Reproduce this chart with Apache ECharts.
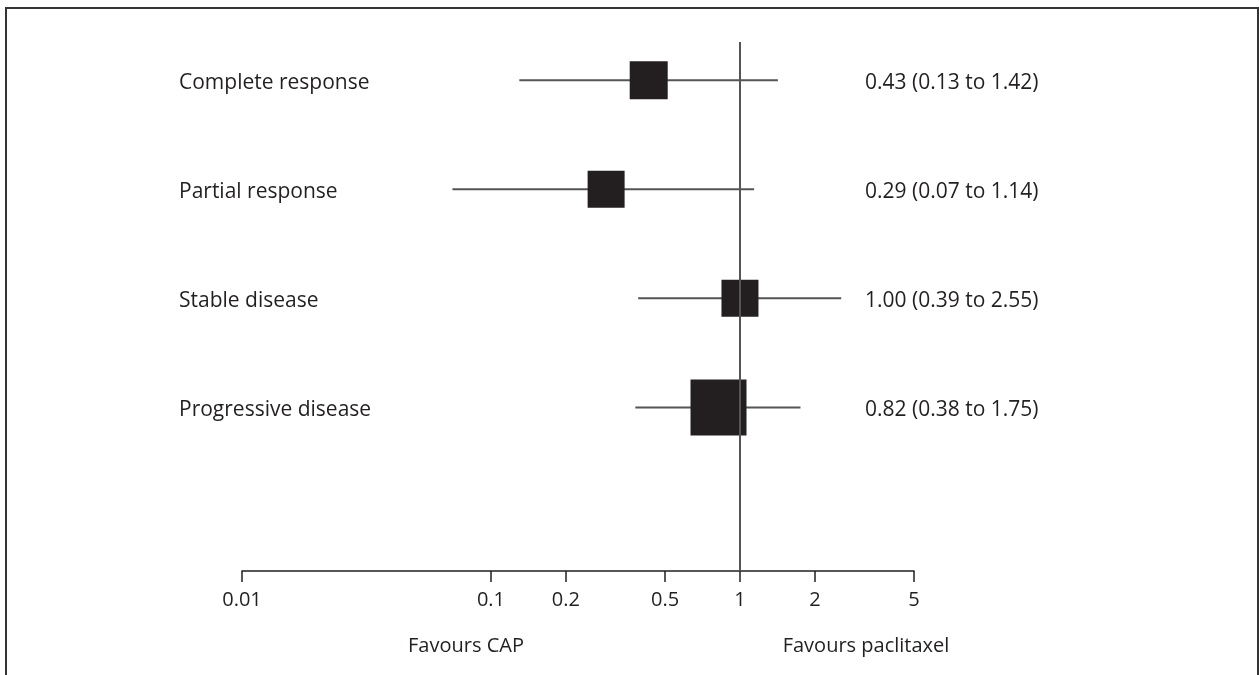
<!DOCTYPE html>
<html>
<head>
<meta charset="utf-8">
<script src="https://cdn.jsdelivr.net/npm/echarts@6/dist/echarts.min.js"></script>
<style>
  html, body { margin: 0; padding: 0; background: #fff; }
  #chart { width: 1260px; height: 675px; }
</style>
</head>
<body>
<div id="chart"></div>
<script>
// outcomes, odds ratios and 95% CI
var outcomes = ['Complete response', 'Partial response', 'Stable disease', 'Progressive disease'];
var oddsRatio = [0.43, 0.29, 1.00, 0.82];
var ciLow = [0.13, 0.07, 0.39, 0.38];
var ciHigh = [1.42, 1.14, 2.55, 1.75];
var boxSize = [38, 37, 37, 56];
var ciText = ['0.43 (0.13 to 1.42)', '0.29 (0.07 to 1.14)', '1.00 (0.39 to 2.55)', '0.82 (0.38 to 1.75)'];
// x axis ticks
var tickValues = [0.01, 0.1, 0.2, 0.5, 1, 2, 5];
var tickLabels = ['0.01', '0.1', '0.2', '0.5', '1', '2', '5'];

var FONT = 'Open Sans';
var INK = '#231f20';

var myChart = echarts.init(document.getElementById('chart'));

var rows = [];
for (var i = 0; i < outcomes.length; i++) {
  rows.push([oddsRatio[i], i + 1, ciLow[i], ciHigh[i], boxSize[i], i]);
}

function renderRow(params, api) {
  var y = api.value(1);
  var c = api.coord([api.value(0), y]);
  var lo = api.coord([api.value(2), y]);
  var hi = api.coord([api.value(3), y]);
  var s = api.value(4);
  var idx = api.value(5);
  var txt = { verticalAlign: 'middle', align: 'left', fontFamily: FONT, fontSize: 21, fill: INK };
  return {
    type: 'group',
    children: [
      {
        type: 'line',
        shape: { x1: lo[0], y1: lo[1], x2: hi[0], y2: hi[1] },
        style: { stroke: '#555', lineWidth: 2 }
      },
      {
        type: 'rect',
        shape: { x: c[0] - s / 2, y: c[1] - s / 2, width: s, height: s },
        style: { fill: INK }
      },
      {
        type: 'text',
        style: echarts.util.extend({ text: outcomes[idx], x: params.coordSys.x - 63, y: c[1] + 3 }, txt)
      },
      {
        type: 'text',
        style: echarts.util.extend({ text: ciText[idx], x: params.coordSys.x + 623, y: c[1] + 3 }, txt)
      }
    ]
  };
}

var option = {
  animation: false,
  grid: { left: 242, right: 346, top: 42, bottom: 104 },
  xAxis: {
    type: 'log',
    logBase: 10,
    min: 0.01,
    max: 5,
    axisLine: { lineStyle: { color: INK, width: 1.5 } },
    axisTick: { length: 11, lineStyle: { color: INK, width: 1.5 }, customValues: tickValues },
    axisLabel: {
      customValues: tickValues,
      margin: 19,
      fontFamily: FONT,
      fontSize: 20,
      color: INK,
      formatter: function (v) {
        for (var k = 0; k < tickValues.length; k++) {
          if (Math.abs(tickValues[k] - v) < 1e-9) return tickLabels[k];
        }
        return '';
      }
    },
    splitLine: { show: false }
  },
  yAxis: {
    type: 'value',
    inverse: true,
    min: 0.65,
    max: 5.5,
    axisLine: { show: false },
    axisTick: { show: false },
    splitLine: { show: false },
    axisLabel: { show: false }
  },
  graphic: [
    {
      type: 'polyline',
      shape: { points: [[6, 675], [6, 8], [1258, 8], [1258, 675]] },
      style: { stroke: '#333', lineWidth: 2, fill: null }
    },
    {
      type: 'text', x: 466, y: 646,
      style: { text: 'Favours CAP', align: 'center', verticalAlign: 'middle', fontFamily: FONT, fontSize: 20, fill: INK }
    },
    {
      type: 'text', x: 866, y: 646,
      style: { text: 'Favours paclitaxel', align: 'center', verticalAlign: 'middle', fontFamily: FONT, fontSize: 20, fill: INK }
    }
  ],
  series: [
    {
      type: 'custom',
      renderItem: renderRow,
      data: rows,
      clip: false,
      z: 3,
      markLine: {
        silent: true,
        symbol: 'none',
        label: { show: false },
        lineStyle: { color: '#555', width: 2, type: 'solid' },
        data: [{ xAxis: 1 }]
      }
    }
  ]
};
myChart.setOption(option);
</script>
</body>
</html>
